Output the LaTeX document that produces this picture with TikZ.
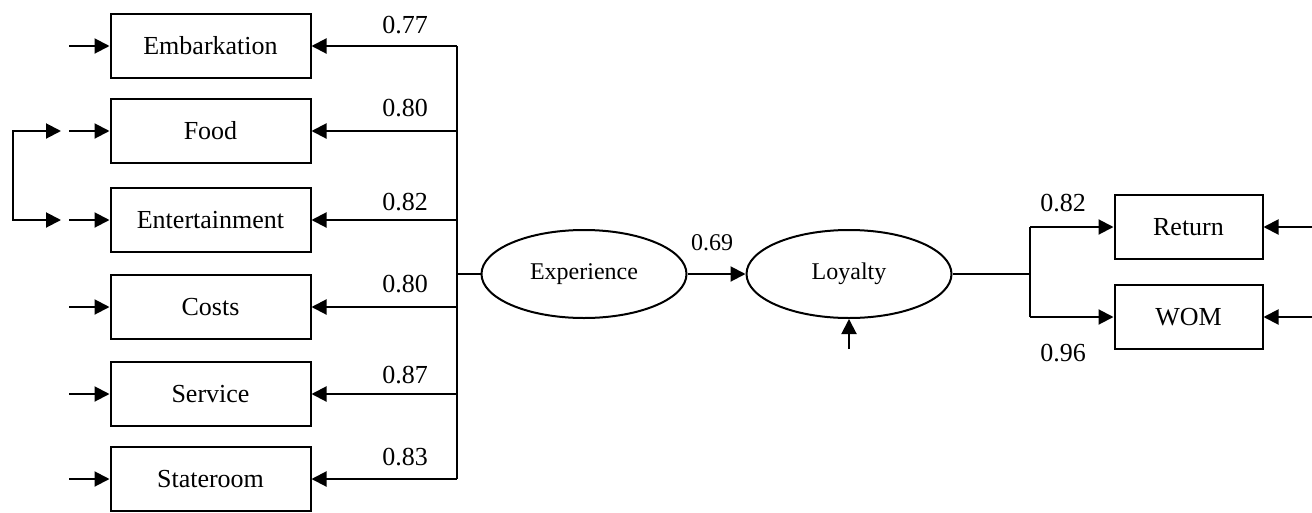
\documentclass[tikz,border=0pt]{standalone}
\usepackage{fontspec}
\setmainfont{Liberation Serif}
\usetikzlibrary{arrows.meta,shapes.geometric}
\tikzset{
  box/.style={draw, line width=2pt, rectangle, minimum width=200pt, minimum height=64pt, inner sep=0pt, font=\fontsize{26}{30}\selectfont},
  lat/.style={draw, line width=2pt, ellipse, minimum width=205pt, minimum height=88pt, inner sep=0pt, font=\fontsize{24}{28}\selectfont},
  ln/.style={line width=2pt},
  arr/.style={line width=2pt, -{Triangle[length=15pt,width=15pt]}},
  darr/.style={line width=2pt, {Triangle[length=15pt,width=15pt]}-{Triangle[length=15pt,width=15pt]}},
  lab/.style={font=\fontsize{26}{30}\selectfont, inner sep=0pt},
  labs/.style={font=\fontsize{24}{28}\selectfont, inner sep=0pt},
}
\begin{document}
\begin{tikzpicture}[x=1pt,y=-1pt]
\useasboundingbox (0,0) rectangle (1312,512);
% left indicator boxes
\node[box] (emb) at (210.5,46) {Embarkation};
\node[box] (food) at (210.5,131) {Food};
\node[box] (ent) at (210.5,220) {Entertainment};
\node[box] (cost) at (210.5,307) {Costs};
\node[box] (serv) at (210.5,394) {Service};
\node[box] (stat) at (210.5,479) {Stateroom};
% latent variables
\node[lat] (exp) at (584,274) {Experience};
\node[lat] (loy) at (849,274) {Loyalty};
% right boxes
\node[box, minimum width=148pt] (ret) at (1188.5,227) {Return};
\node[box, minimum width=148pt] (wom) at (1188.5,317) {WOM};
% junctions
\coordinate (jL) at (457,274);
\coordinate (jR) at (1030,274);
% left structure
\draw[ln] (exp.west) -- (jL);
\draw[ln] (jL |- emb) -- (jL |- stat);
\foreach \n in {emb,food,ent,cost,serv,stat}{
  \draw[arr] (jL |- \n) -- (\n.east);
}
\node[lab] (l1) at (405,25) {0.77};
\node[lab] (l2) at (405,108) {0.80};
\node[lab] (l3) at (405,202) {0.82};
\node[lab] (l4) at (405,284) {0.80};
\node[lab] (l5) at (405,375) {0.87};
\node[lab] (l6) at (405,457) {0.83};
% error arrows left
\coordinate (eL) at (69,0);
\foreach \n in {emb,food,ent,cost,serv,stat}{
  \draw[arr] (eL |- \n) -- (\n.west);
}
% correlation bracket
\coordinate (c1) at (61,131);
\coordinate (c2) at (61,220);
\coordinate (cb) at (13,0);
\draw[darr] (c1) -- (cb |- c1) -- (cb |- c2) -- (c2);
% structural path
\draw[arr] (exp.east) -- (loy.west);
\node[labs] (l7) at (712,243) {0.69};
\coordinate (eLoy) at (849,349);
\draw[arr] (eLoy) -- (loy.south);
% right structure
\draw[ln] (loy.east) -- (jR);
\draw[ln] (jR |- ret) -- (jR |- wom);
\draw[arr] (jR |- ret) -- (ret.west);
\draw[arr] (jR |- wom) -- (wom.west);
\node[lab] (l8) at (1063,203) {0.82};
\node[lab] (l9) at (1063,353) {0.96};
\coordinate (eR) at (1312,0);
\draw[arr] (eR |- ret) -- (ret.east);
\draw[arr] (eR |- wom) -- (wom.east);
\end{tikzpicture}
\end{document}
